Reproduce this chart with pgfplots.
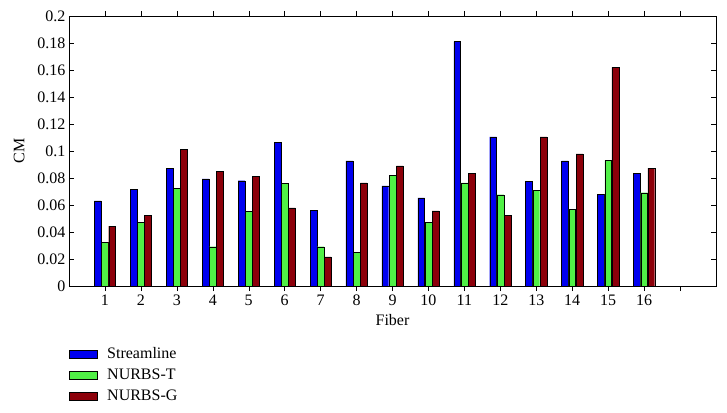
\documentclass[border=0pt]{standalone}
\usepackage{pgfplots}
\pgfplotsset{compat=1.18}
\usepackage{fontspec}
\setmainfont{Liberation Serif}
\definecolor{cblue}{RGB}{0,0,240}
\definecolor{cgreen}{RGB}{80,240,70}
\definecolor{cred}{RGB}{140,0,10}
\begin{document}
\begin{tikzpicture}
\begin{axis}[
  scale only axis,
  width=647pt, height=270pt,
  xmin=0, xmax=18, ymin=0, ymax=0.2,
  xtick={1,...,17},
  xticklabels={1,2,3,4,5,6,7,8,9,10,11,12,13,14,15,16,{}},
  ytick={0,0.02,...,0.2},
  yticklabels={0,0.02,0.04,0.06,0.08,0.1,0.12,0.14,0.16,0.18,0.2},
  tick align=inside,
  major tick length=5pt,
  tick style={black, thin},
  /pgf/number format/assume math mode=true,
  ticklabel style={font=\fontsize{16}{18}\selectfont},
  label style={font=\fontsize{16}{18}\selectfont},
  xlabel={Fiber}, ylabel={CM},
  xlabel style={yshift=-2pt},
  ylabel style={yshift=6pt},
  axis line style={black, thin},
  ybar, bar width=0.19,
  legend style={at={(0,-0.22)}, anchor=north west, draw=none, fill=none,
    inner sep=0pt, outer sep=0pt,
    font=\fontsize{16}{18}\selectfont, row sep=5pt},
  legend cell align=left,
  legend image code/.code={\draw[#1, draw=black, line width=0.4pt] (0pt,-4pt) rectangle (28pt,4pt);
    \path[draw=none, fill=none] (0pt,0pt) -- (36pt,0pt);},
]
\addplot[fill=cblue, draw=black, line width=0.4pt, bar shift=-0.2] coordinates {
(1,0.063) (2,0.0716) (3,0.0872) (4,0.0793) (5,0.078) (6,0.1062) (7,0.056) (8,0.0926)
(9,0.0741) (10,0.0652) (11,0.181) (12,0.1104) (13,0.0775) (14,0.0926) (15,0.0679) (16,0.0837)};
\addplot[fill=cgreen, draw=black, line width=0.4pt, bar shift=0] coordinates {
(1,0.0324) (2,0.0469) (3,0.0723) (4,0.0291) (5,0.0553) (6,0.076) (7,0.0291) (8,0.025)
(9,0.0822) (10,0.0472) (11,0.0763) (12,0.0676) (13,0.0711) (14,0.057) (15,0.0931) (16,0.0691)};
\addplot[fill=cred, draw=black, line width=0.4pt, bar shift=0.2] coordinates {
(1,0.0444) (2,0.0524) (3,0.101) (4,0.0849) (5,0.081) (6,0.0578) (7,0.0215) (8,0.0763)
(9,0.0889) (10,0.0556) (11,0.0837) (12,0.0524) (13,0.1104) (14,0.0978) (15,0.162) (16,0.0874)};
\legend{Streamline, NURBS-T, NURBS-G}
\end{axis}
\path ([shift={(-69pt,-126pt)}]current axis.south west) rectangle ([shift={(11pt,16pt)}]current axis.north east);
\end{tikzpicture}
\end{document}
